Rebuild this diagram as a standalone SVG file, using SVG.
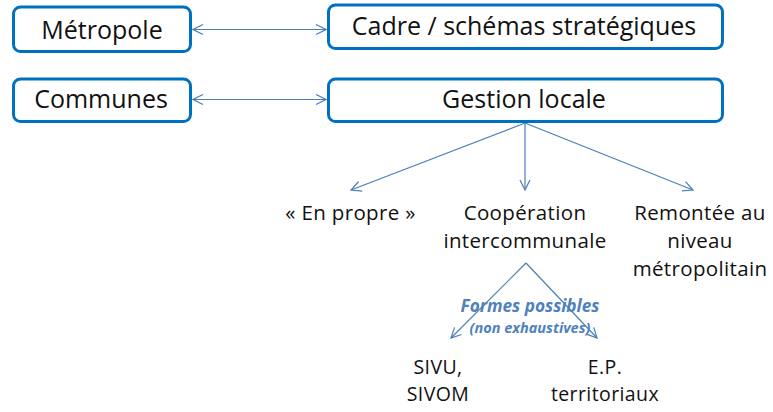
<svg xmlns="http://www.w3.org/2000/svg" width="773" height="412" viewBox="0 0 773 412">
<style>
.box{fill:#fff;stroke:#0070C0;stroke-width:3}
.t{font-family:"Open Sans","Noto Sans",sans-serif;fill:#111;text-anchor:middle}
.big{font-size:25px}
.sm{font-size:20.5px;letter-spacing:0.35px}
.xs{font-size:19.5px;letter-spacing:0.4px}
.conn{stroke:#4A7EBB;stroke-width:1.2;fill:none}
.blue{font-family:"Open Sans","Noto Sans",sans-serif;fill:#4F81BD;font-style:italic;font-weight:bold;text-anchor:middle}
</style>
<defs>
<marker id="ah" viewBox="0 0 12 12" refX="11" refY="6" markerWidth="12" markerHeight="12" markerUnits="userSpaceOnUse" orient="auto-start-reverse">
<path d="M1,1 L11,6 L1,11" fill="none" stroke="#4A7EBB" stroke-width="1.2"/>
</marker>
</defs>
<rect width="773" height="412" fill="#fff"/>
<g id="connectors">
<line class="conn" x1="193" y1="29.5" x2="326" y2="29.5" marker-start="url(#ah)" marker-end="url(#ah)"/>
<line class="conn" x1="193" y1="99.5" x2="326" y2="99.5" marker-start="url(#ah)" marker-end="url(#ah)"/>
<line class="conn" x1="525" y1="123" x2="351" y2="190" marker-end="url(#ah)"/>
<line class="conn" x1="525" y1="123" x2="525" y2="190" marker-end="url(#ah)"/>
<line class="conn" x1="525" y1="123" x2="693" y2="190" marker-end="url(#ah)"/>
<line class="conn" x1="526" y1="263" x2="451" y2="338" marker-end="url(#ah)"/>
<line class="conn" x1="526" y1="263" x2="597" y2="338" marker-end="url(#ah)"/>
</g>
<g id="metropole">
<rect class="box" x="13.5" y="7" width="177" height="44.5" rx="7"/>
<text class="t big" x="102" y="38.5">Métropole</text>
</g>
<g id="cadre">
<rect class="box" x="328.5" y="5" width="394" height="43.5" rx="7"/>
<text class="t big" x="524" y="35">Cadre / schémas stratégiques</text>
</g>
<g id="communes">
<rect class="box" x="13.5" y="79" width="177" height="42.5" rx="7"/>
<text class="t big" x="101" y="108">Communes</text>
</g>
<g id="gestion">
<rect class="box" x="328.5" y="79" width="394" height="42.5" rx="7"/>
<text class="t big" x="524" y="108">Gestion locale</text>
</g>
<g id="en-propre">
<text class="t sm" x="350.5" y="220">« En propre »</text>
</g>
<g id="cooperation">
<text class="t sm" x="525" y="220">Coopération</text>
<text class="t sm" x="525" y="248">intercommunale</text>
</g>
<g id="remontee">
<text class="t sm" x="700" y="220">Remontée au</text>
<text class="t sm" x="700" y="248">niveau</text>
<text class="t sm" x="700" y="276">métropolitain</text>
</g>
<g id="formes">
<text class="blue" x="530" y="312" font-size="17.2">Formes possibles</text>
<text class="blue" x="530" y="333" font-size="14.5">(non exhaustives)</text>
</g>
<g id="sivu">
<text class="t xs" x="438" y="374">SIVU,</text>
<text class="t xs" x="438" y="400.8">SIVOM</text>
</g>
<g id="ep">
<text class="t xs" x="605" y="374">E.P.</text>
<text class="t xs" x="605" y="400.8">territoriaux</text>
</g>
</svg>
